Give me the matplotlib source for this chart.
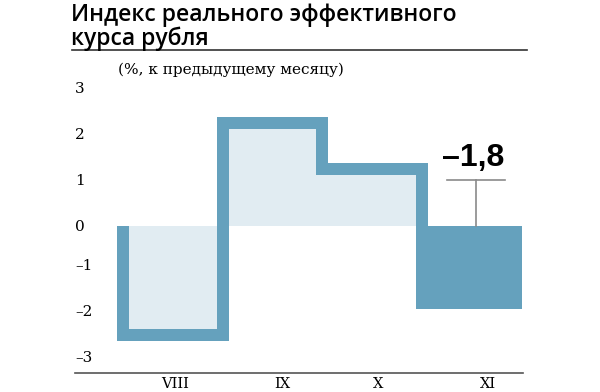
import matplotlib
matplotlib.use("Agg")
import matplotlib.pyplot as plt
from matplotlib.lines import Line2D
from matplotlib.transforms import ScaledTranslation
import numpy as np

# ---- data ----
months = ["VIII", "IX", "X", "XI"]
values = [-2.25, 2.1, 1.1, -1.8]
yticks = [3, 2, 1, 0, -1, -2, -3]
ytick_labels = ["3", "2", "1", "0", "–1", "–2", "–3"]
title = "Индекс реального эффективного\nкурса рубля"
subtitle = "(%, к предыдущему месяцу)"
annot_label = "–1,8"
annot_level = 1.0

LINE = "#65a1bd"
LIGHT = "#e1ecf2"
W, H = 600, 392

fig = plt.figure(figsize=(6, 3.92), dpi=100)
ax = fig.add_axes([75 / W, (392 - 373) / H, (523 - 75) / W, 0.7625])

x = np.arange(len(values))
ax.set_xlim(-0.98, 3.51)
ax.set_ylim(-3.2, 3.3)

# light fills for first three months
ax.bar(x[:3], values[:3], width=1.0, color=LIGHT, edgecolor="none", zorder=1)

# thick step outline (outside the fills)
lw_px = 12.0
px_per_unit = 46.0
off = lw_px / 2 / px_per_unit
xs = [-0.5]
ys = [0.0]
for i, v in enumerate(values[:3]):
    yv = v + np.sign(v) * off
    xs += [i - 0.5, i + 0.5]
    ys += [yv, yv]
xs.append(2.5)
ys.append(0.0)
ax.plot(xs, ys, color=LINE, lw=lw_px * 72 / 100, solid_capstyle="butt",
        solid_joinstyle="miter", zorder=3)

# solid last bar
ax.bar(x[3] - 0.03, values[3], width=1.06, color=LINE, edgecolor="none", zorder=4)

# annotation bracket
ax.plot([2.75, 3.33], [annot_level, annot_level], color="#8a8a8a", lw=1.2, zorder=5)
ax.plot([3.04, 3.04], [0, annot_level], color="#8a8a8a", lw=1.2, zorder=5)
ax.text(3.01, annot_level + 0.16, annot_label, ha="center", va="bottom",
        fontsize=23, fontweight="bold",
        family=["DejaVu Sans Condensed", "Liberation Sans Narrow", "Liberation Sans"],
        zorder=6)

# axes styling
for s in ["top", "right", "left"]:
    ax.spines[s].set_visible(False)
ax.spines["bottom"].set_color("#555555")
ax.spines["bottom"].set_linewidth(1.2)
ax.tick_params(axis="y", length=0, pad=0)
ax.tick_params(axis="x", length=0, pad=3)
ax.set_yticks(yticks)
ax.set_yticklabels(ytick_labels, family="DejaVu Serif", fontsize=11)
for val, lab in zip(yticks, ax.get_yticklabels()):
    lab.set_horizontalalignment("left")
    if val < 0:
        lab.set_transform(lab.get_transform() +
                          ScaledTranslation(0, 7 / 100, fig.dpi_scale_trans))
ax.set_xticks(x)
ax.set_xticklabels(months, family="DejaVu Serif", fontsize=10.5)
label_nudge_px = [2, 10, 6, 16]
for dx, lab in zip(label_nudge_px, ax.get_xticklabels()):
    lab.set_transform(lab.get_transform() +
                      ScaledTranslation(dx / 100, 0, fig.dpi_scale_trans))

# title, rule, subtitle
fig.text(71 / W, 1 - 3 / H, title, ha="left", va="top", fontsize=16.5,
         family=["Open Sans", "DejaVu Sans"], fontweight="semibold", linespacing=0.95)
fig.add_artist(Line2D([72 / W, 527 / W], [1 - 50 / H, 1 - 50 / H],
                      color="#333333", lw=1.2))
fig.text(118 / W, 1 - 70 / H, subtitle, ha="left", va="center", fontsize=11,
         family="DejaVu Serif")

fig.savefig("out.png", dpi=100)
